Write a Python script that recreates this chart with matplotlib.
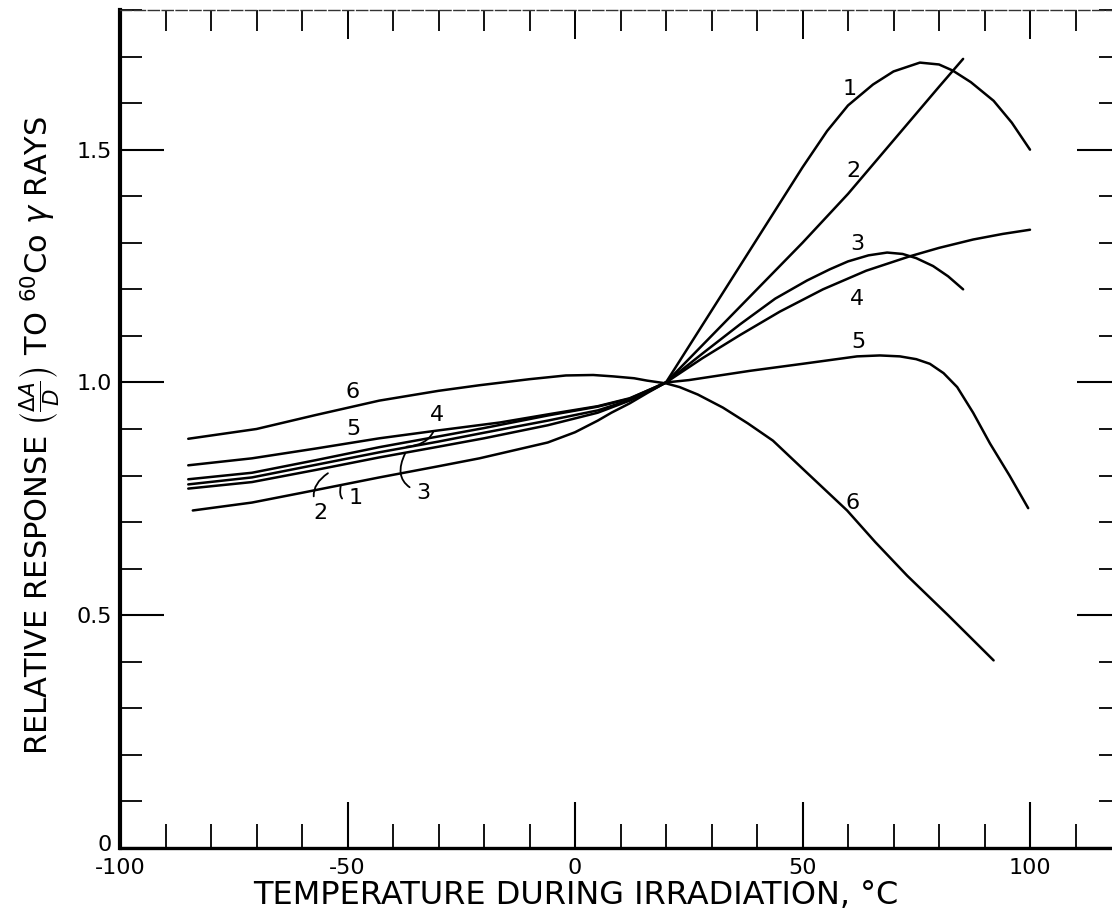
import matplotlib
matplotlib.use("Agg")
import matplotlib.pyplot as plt
from matplotlib.ticker import MultipleLocator
from matplotlib.transforms import ScaledTranslation

plt.rcParams["font.family"] = ["DejaVu Sans"]
plt.rcParams["mathtext.fontset"] = "dejavusans"

# curves: temperature (C) vs relative response
t1 = [-84, -71, -60, -43, -30, -21, -6, 0, 5, 8, 12, 16, 20, 30, 40, 50, 55.4, 60, 65.5, 70,
      75.8, 80, 83, 87, 92, 96, 100]
r1 = [0.725, 0.742, 0.763, 0.796, 0.82, 0.837, 0.871, 0.893, 0.918, 0.935, 0.955, 0.978, 1.0,
      1.154, 1.308, 1.462, 1.54, 1.595, 1.64, 1.668, 1.687, 1.683, 1.67, 1.645, 1.605, 1.558, 1.50]

t2 = [-85, -71, -57, -43, -30, -20, -6, 5, 12, 17, 20, 30, 40, 50, 60, 70, 80, 85.3]
r2 = [0.772, 0.786, 0.812, 0.839, 0.862, 0.88, 0.908, 0.935, 0.961, 0.985, 1.0, 1.10, 1.20,
      1.30, 1.405, 1.52, 1.635, 1.695]

t3 = [-85, -71, -57, -43, -30, -20, -6, 5, 12, 17, 20, 28, 36.3, 44, 51, 56, 60, 64.5, 68.6,
      72, 75, 78.7, 82, 85.3]
r3 = [0.781, 0.796, 0.823, 0.850, 0.873, 0.892, 0.918, 0.94, 0.962, 0.985, 1.0, 1.062, 1.125,
      1.18, 1.219, 1.243, 1.26, 1.273, 1.279, 1.276, 1.267, 1.25, 1.228, 1.20]

t4 = [-85, -71, -57, -43, -30, -20, -6, 5, 12, 17, 20, 28, 36.3, 45, 54.5, 64, 73.6, 80, 87.5,
      94, 100]
r4 = [0.792, 0.806, 0.833, 0.861, 0.884, 0.902, 0.929, 0.948, 0.965, 0.987, 1.0, 1.052, 1.102,
      1.152, 1.200, 1.240, 1.271, 1.289, 1.307, 1.319, 1.328]

t5 = [-85, -71, -57, -43, -30, -16.5, -5, 5, 12, 17, 20, 25, 38.5, 50, 62, 67, 71.4, 75, 78,
      81, 84, 87.5, 91.2, 95.5, 99.6]
r5 = [0.822, 0.837, 0.858, 0.88, 0.897, 0.914, 0.933, 0.949, 0.966, 0.987, 1.0, 1.005, 1.025,
      1.04, 1.056, 1.058, 1.056, 1.05, 1.04, 1.02, 0.99, 0.935, 0.869, 0.80, 0.73]

t6 = [-85, -70, -57, -43, -30, -21, -10, -2, 4, 8.4, 13, 15.8, 20, 23, 27, 32.5, 38, 43.5, 50,
      59.8, 66, 73, 82, 92]
r6 = [0.879, 0.90, 0.93, 0.961, 0.982, 0.994, 1.007, 1.015, 1.016, 1.013, 1.009, 1.004, 0.998,
      0.99, 0.974, 0.946, 0.912, 0.875, 0.815, 0.725, 0.657, 0.585, 0.50, 0.403]

curves = [(t1, r1), (t2, r2), (t3, r3), (t4, r4), (t5, r5), (t6, r6)]

xtick_pos = [-100, -50, 0, 50, 100]
xtick_lab = ["-100", "-50", "0", "50", "100"]
ytick_pos = [0, 0.5, 1.0, 1.5]
ytick_lab = ["0", "0.5", "1.0", "1.5"]

# curve numbers at the right-hand side and the left-hand side
right_labels = [("1", 60.4, 1.631), ("2", 61.1, 1.455), ("3", 62, 1.298),
                ("4", 62, 1.18), ("5", 62.2, 1.086), ("6", 61.1, 0.74)]
left_labels = [("6", -48.8, 0.979), ("5", -48.8, 0.901)]

W, H = 1112, 915
fig = plt.figure(figsize=(W / 100, H / 100), dpi=100)
ax = fig.add_axes([120 / W, (H - 848) / H, (1121 - 120) / W, (848 - 10) / H])

for t, r in curves:
    ax.plot(t, r, color="black", lw=1.8, solid_capstyle="round", solid_joinstyle="round")

for txt, x, y in right_labels + left_labels:
    ax.text(x, y, txt, fontsize=16, ha="center", va="center")

# hooked leader labels in the bundle on the left
hook = dict(arrowstyle="-", lw=1.3, color="black", shrinkA=3, shrinkB=0)
ax.annotate("4", xy=(-37, 0.862), xytext=(-30.3, 0.929), fontsize=16, ha="center", va="center",
            arrowprops=dict(hook, connectionstyle="arc3,rad=-0.45"))
ax.annotate("3", xy=(-37.3, 0.848), xytext=(-33.4, 0.762), fontsize=16, ha="center", va="center",
            arrowprops=dict(hook, connectionstyle="arc3,rad=-0.6"))
ax.annotate("2", xy=(-54.3, 0.805), xytext=(-56, 0.719), fontsize=16, ha="center", va="center",
            arrowprops=dict(hook, connectionstyle="arc3,rad=-0.5"))
ax.annotate("1", xy=(-51.5, 0.777), xytext=(-48.2, 0.751), fontsize=16, ha="center", va="center",
            arrowprops=dict(hook, connectionstyle="arc3,rad=-0.9"))

ax.set_xlim(-100, 120)
ax.set_ylim(0, 1.8)

ax.set_xticks(xtick_pos, xtick_lab)
ax.xaxis.set_minor_locator(MultipleLocator(10))
ax.set_yticks(ytick_pos, ytick_lab)
ax.yaxis.set_minor_locator(MultipleLocator(0.1))

ax.tick_params(which="both", direction="in", bottom=True, left=True, right=True, top=False,
               labelsize=16, color="black")
ax.tick_params(axis="x", which="major", length=33, width=1.5, pad=7)
ax.tick_params(axis="x", which="minor", length=17, width=1.3)
ax.tick_params(axis="y", which="major", length=32, width=1.5, pad=6)
ax.tick_params(axis="y", which="minor", length=16, width=1.3)

# lift the "0" on the y axis a little so it clears "-100"
lab0 = ax.get_yticklabels()[0]
lab0.set_transform(lab0.get_transform() + ScaledTranslation(0, 5 / 100, fig.dpi_scale_trans))

top = ax.secondary_xaxis("top")
top.set_xticks(xtick_pos, [""] * len(xtick_pos))
top.xaxis.set_minor_locator(MultipleLocator(10))
top.tick_params(which="major", direction="in", length=21, width=1.4)
top.tick_params(which="minor", direction="in", length=15, width=1.3)
top.spines["top"].set_visible(False)

ax.spines["left"].set_linewidth(3.0)
ax.spines["bottom"].set_linewidth(2.4)
ax.spines["top"].set_linewidth(1.0)
ax.spines["top"].set_linestyle((0, (8, 2)))
ax.spines["top"].set_color("#333333")
ax.spines["right"].set_linewidth(1.5)

fig.text(576 / W, 1 - 896 / H, "TEMPERATURE DURING IRRADIATION, °C",
         ha="center", va="center", fontsize=23)
fig.text(40 / W, 1 - 435 / H,
         r"RELATIVE RESPONSE $\left(\frac{\Delta A}{D}\right)$ TO $^{60}$Co $\gamma$ RAYS",
         rotation=90, ha="center", va="center", fontsize=22)

fig.savefig("out.png", dpi=100)
